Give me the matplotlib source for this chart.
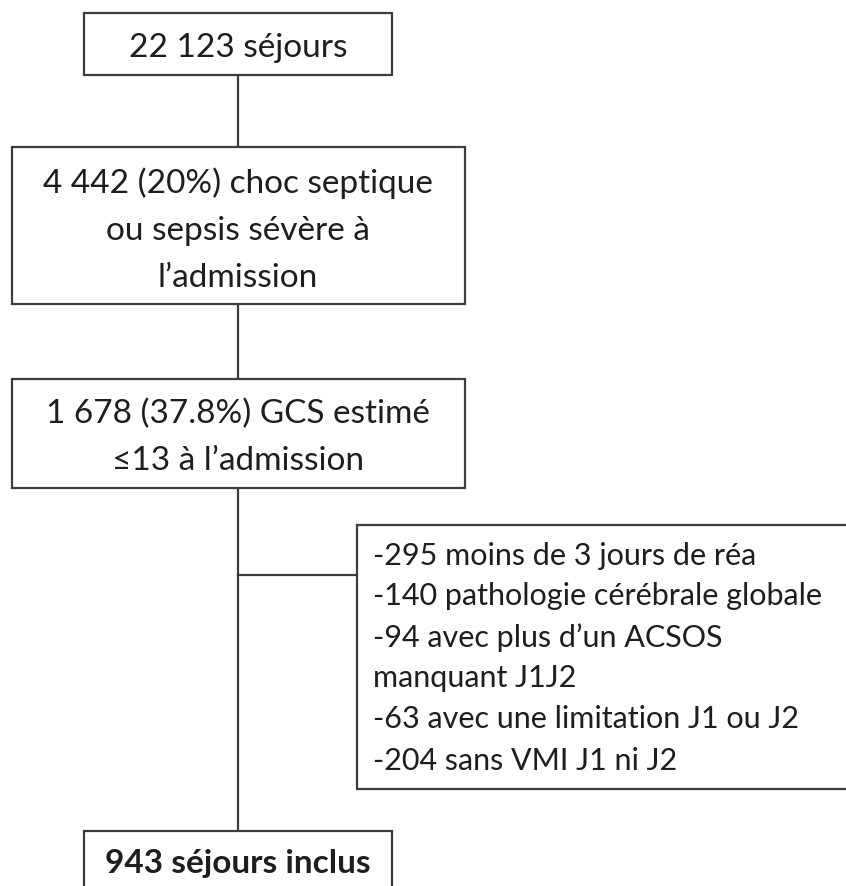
"""Flowchart of the included ICU stays (séjours)."""
import matplotlib.pyplot as plt
from matplotlib.patches import Rectangle

plt.rcParams['font.family'] = ['Lato', 'DejaVu Sans']

# box contents, top to bottom
total_text = ["22 123 séjours"]
sepsis_text = ["4 442 (20%) choc septique", "ou sepsis sévère à", "l’admission"]
gcs_text = ["1 678 (37.8%) GCS estimé", "≤13 à l’admission"]
excluded_text = [
    "-295 moins de 3 jours de réa",
    "-140 pathologie cérébrale globale",
    "-94 avec plus d’un ACSOS",
    "manquant J1J2",
    "-63 avec une limitation J1 ou J2",
    "-204 sans VMI J1 ni J2",
]
included_text = ["943 séjours inclus"]

W, H = 846, 886
EDGE = "#3c3c3c"
TXT = "#1e1e1e"

fig = plt.figure(figsize=(W / 100, H / 100), dpi=100)
ax = fig.add_axes([0, 0, 1, 1])
ax.set_xlim(0, W)
ax.set_ylim(H, 0)
ax.axis("off")


def box(x0, y0, x1, y1):
    ax.add_patch(Rectangle((x0, y0), x1 - x0, y1 - y0, fill=True, fc="white",
                           ec=EDGE, lw=1.6, zorder=2, clip_on=True))


def lines(texts, x, baselines, ha="center", weight="normal", fs=24):
    for t, b in zip(texts, baselines):
        ax.text(x, b, t, ha=ha, va="baseline", fontsize=fs, color=TXT,
                fontweight=weight, zorder=3)


cx = 238
# connectors
ax.plot([cx, cx], [75, 831], color=EDGE, lw=1.6, zorder=1)
ax.plot([cx, 357], [575, 575], color=EDGE, lw=1.6, zorder=1)

box(84, 13, 392, 75)
lines(total_text, cx, [57])

box(12, 147, 465, 304)
lines(sepsis_text, cx, [193, 240, 287])

box(12, 379, 465, 488)
lines(gcs_text, cx, [423, 470])

box(357, 525, 852, 789)
lines(excluded_text, 373, [565, 605, 647, 687, 728, 770], ha="left", fs=22)

box(84, 831, 392, 900)
lines(included_text, cx, [873], weight="bold")

fig.savefig("out.png", dpi=100)
plt.close(fig)
